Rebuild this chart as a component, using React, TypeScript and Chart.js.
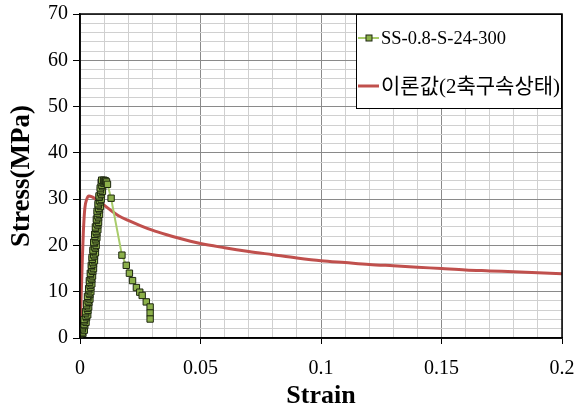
import React, { useEffect, useRef } from "react";
import { Chart, registerables } from "chart.js";

Chart.register(...registerables);

const seriesNames = ["SS-0.8-S-24-300", "이론값(2축구속상태)"];

// Experimental: strain / stress (MPa)
const expStrain = [
  0.0000, 0.0002, 0.0012, 0.0010, 0.0018, 0.0010, 0.0010, 0.0020, 0.0017, 0.0025,
  0.0017, 0.0017, 0.0027, 0.0025, 0.0032, 0.0024, 0.0023, 0.0033, 0.0030, 0.0036,
  0.0028, 0.0027, 0.0037, 0.0034, 0.0041, 0.0033, 0.0031, 0.0041, 0.0038, 0.0045,
  0.0037, 0.0036, 0.0045, 0.0042, 0.0049, 0.0040, 0.0039, 0.0049, 0.0046, 0.0052,
  0.0044, 0.0043, 0.0053, 0.0049, 0.0056, 0.0048, 0.0047, 0.0056, 0.0053, 0.0060,
  0.0051, 0.0050, 0.0060, 0.0057, 0.0064, 0.0055, 0.0054, 0.0064, 0.0060, 0.0067,
  0.0059, 0.0057, 0.0067, 0.0064, 0.0070, 0.0062, 0.0061, 0.0070, 0.0067, 0.0074,
  0.0065, 0.0064, 0.0074, 0.0070, 0.0077, 0.0069, 0.0068, 0.0077, 0.0074, 0.0081,
  0.0072, 0.0071, 0.0081, 0.0078, 0.0085, 0.0076, 0.0075, 0.0085, 0.0081, 0.0088,
  0.0080, 0.0079, 0.0089, 0.0086, 0.0093, 0.0085, 0.0084, 0.0094, 0.0091, 0.0099,
  0.0088, 0.0094, 0.0090, 0.0098, 0.0103, 0.0107, 0.0110,
  0.0114, 0.0129, 0.0174, 0.0192, 0.0205, 0.0218, 0.0234, 0.0248, 0.0258,
  0.0275, 0.0291, 0.0291, 0.0291,
];
const expStress = [
  1.4, 0.6, 1.0, 1.3, 1.7, 2.0, 2.4, 2.7, 3.0, 3.4,
  3.7, 4.0, 4.4, 4.7, 5.0, 5.4, 5.7, 6.0, 6.4, 6.7,
  7.0, 7.4, 7.7, 8.0, 8.4, 8.7, 9.0, 9.4, 9.7, 10.0,
  10.4, 10.7, 11.0, 11.4, 11.7, 12.0, 12.4, 12.7, 13.0, 13.4,
  13.7, 14.0, 14.4, 14.7, 15.0, 15.4, 15.7, 16.0, 16.4, 16.7,
  17.0, 17.4, 17.7, 18.0, 18.4, 18.7, 19.0, 19.4, 19.7, 20.0,
  20.4, 20.7, 21.0, 21.4, 21.7, 22.0, 22.4, 22.7, 23.0, 23.4,
  23.7, 24.0, 24.4, 24.7, 25.0, 25.4, 25.7, 26.0, 26.4, 26.7,
  27.0, 27.4, 27.7, 28.0, 28.4, 28.7, 29.0, 29.4, 29.7, 30.0,
  30.4, 30.7, 31.0, 31.4, 31.7, 32.0, 32.4, 32.7, 33.0, 33.4,
  33.7, 33.9, 34.1, 34.1, 34.0, 33.9, 33.7,
  33.2, 30.2, 17.9, 15.7, 14.0, 12.4, 10.9, 9.9, 9.2,
  7.8, 6.7, 5.4, 4.1,
];

// Theoretical curve
const theoStrain = [
  0, 0.0003, 0.0007, 0.001, 0.0014, 0.002, 0.0028, 0.0037, 0.005, 0.0065,
  0.008, 0.01, 0.012, 0.014, 0.016, 0.02, 0.025, 0.03, 0.036, 0.04,
  0.05, 0.06, 0.07, 0.08, 0.09, 0.1, 0.11, 0.12, 0.13, 0.14,
  0.15, 0.16, 0.17, 0.18, 0.19, 0.2,
];
const theoStress = [
  0, 6, 12.5, 17.5, 23, 28, 30, 30.7, 30.5, 30,
  29.5, 28.7, 27.9, 27.1, 26.4, 25.4, 24.3, 23.3, 22.3, 21.7,
  20.4, 19.5, 18.7, 18.0, 17.3, 16.7, 16.3, 15.9, 15.6, 15.3,
  15.0, 14.7, 14.5, 14.3, 14.1, 13.9,
];

const xTickLabels = ["0", "0.05", "0.1", "0.15", "0.2"];
const yTickLabels = ["0", "10", "20", "30", "40", "50", "60", "70"];

const SERIF = "'Liberation Serif', 'Times New Roman', serif";
const EXP_LINE = "#A9CC6B";
const EXP_FILL = "#8CB04A";
const EXP_EDGE = "#1E2810";
const THEO = "#C0504D";

const isMajorX = (v: number) => Math.round(v * 100) % 5 === 0;
const isMajorY = (v: number) => Math.round(v) % 10 === 0;

const frameAndLegend = {
  id: "frameAndLegend",
  afterDatasetsDraw(chart: any) {
    const { ctx, chartArea } = chart;
    ctx.save();
    ctx.strokeStyle = "#000";
    ctx.lineWidth = 1.5;
    ctx.strokeRect(chartArea.left, chartArea.top, chartArea.right - chartArea.left, chartArea.bottom - chartArea.top);

    // legend box
    const bx = 356, by = 14, bw = chartArea.right - 356, bh = 95;
    ctx.fillStyle = "#fff";
    ctx.fillRect(bx, by, bw, bh);
    ctx.strokeStyle = "#000";
    ctx.lineWidth = 1;
    ctx.strokeRect(bx + 0.5, by + 0.5, bw - 1, bh - 1);

    // entry 1
    const y1 = 38;
    ctx.strokeStyle = EXP_LINE;
    ctx.lineWidth = 2;
    ctx.beginPath();
    ctx.moveTo(358, y1);
    ctx.lineTo(379, y1);
    ctx.stroke();
    ctx.fillStyle = EXP_FILL;
    ctx.fillRect(366, y1 - 3, 6, 6);
    ctx.strokeStyle = EXP_EDGE;
    ctx.lineWidth = 1;
    ctx.strokeRect(366, y1 - 3, 6, 6);
    ctx.fillStyle = "#000";
    ctx.textBaseline = "middle";
    ctx.textAlign = "left";
    ctx.font = `18.5px ${SERIF}`;
    ctx.fillText(seriesNames[0], 381, y1 + 1);

    // entry 2
    const y2 = 86;
    ctx.strokeStyle = THEO;
    ctx.lineWidth = 3;
    ctx.beginPath();
    ctx.moveTo(358, y2);
    ctx.lineTo(379, y2);
    ctx.stroke();
    ctx.fillStyle = "#000";
    ctx.font = `21px 'Liberation Serif', 'Noto Sans CJK KR', serif`;
    ctx.fillText(seriesNames[1], 381, y2 + 1);
    ctx.restore();
  },
};

export default function App() {
  const ref = useRef<HTMLCanvasElement | null>(null);

  useEffect(() => {
    document.body.style.margin = "0";
    const canvas = ref.current;
    if (!canvas) return;
    const chart = new Chart(canvas, {
      type: "scatter",
      data: {
        datasets: [
          {
            label: seriesNames[0],
            data: expStrain.map((x, i) => ({ x, y: expStress[i] })),
            showLine: true,
            borderColor: EXP_LINE,
            borderWidth: 2,
            pointStyle: "rect",
            pointRadius: 4.5,
            pointBackgroundColor: EXP_FILL,
            pointBorderColor: EXP_EDGE,
            pointBorderWidth: 1,
            tension: 0,
          },
          {
            label: seriesNames[1],
            data: theoStrain.map((x, i) => ({ x, y: theoStress[i] })),
            showLine: true,
            borderColor: THEO,
            borderWidth: 3,
            pointRadius: 0,
            cubicInterpolationMode: "monotone",
          },
        ],
      },
      options: {
        animation: false,
        responsive: false,
        events: [],
        layout: { padding: { left: 0, right: 16, top: 14, bottom: 0 } },
        plugins: {
          legend: { display: false },
          tooltip: { enabled: false },
        },
        scales: {
          x: {
            type: "linear",
            min: 0,
            max: 0.2,
            afterFit: (s: any) => {
              s.height = 74;
              s.paddingLeft = 0;
              s.paddingRight = 0;
            },
            ticks: {
              stepSize: 0.01,
              autoSkip: false,
              maxRotation: 0,
              color: "#000",
              padding: 13,
              font: { family: SERIF, size: 20 },
              callback: (v: any) => (isMajorX(Number(v)) ? xTickLabels[Math.round(Number(v) * 20)] : ""),
            },
            grid: {
              color: (c: any) => (isMajorX(c.tick.value) ? "#8A8A8A" : "#D0D0D0"),
              tickColor: (c: any) => (isMajorX(c.tick.value) ? "#000" : "rgba(0,0,0,0)"),
              tickLength: 6,
              lineWidth: 1,
            },
            border: { color: "#000", width: 1.5 },
            title: {
              display: true,
              text: "Strain",
              color: "#000",
              font: { family: SERIF, size: 26, weight: "bold", lineHeight: 1.2 },
              padding: { top: 0, bottom: 0 },
            },
          },
          y: {
            type: "linear",
            min: 0,
            max: 70,
            afterFit: (s: any) => {
              s.width = 80;
              s.paddingTop = 0;
              s.paddingBottom = 0;
            },
            ticks: {
              stepSize: 2,
              autoSkip: false,
              color: "#000",
              padding: 5,
              font: { family: SERIF, size: 20 },
              callback: (v: any) => (isMajorY(Number(v)) ? yTickLabels[Math.round(Number(v) / 10)] : ""),
            },
            grid: {
              color: (c: any) => (isMajorY(c.tick.value) ? "#8A8A8A" : "#D0D0D0"),
              tickColor: (c: any) => (isMajorY(c.tick.value) ? "#000" : "rgba(0,0,0,0)"),
              tickLength: 7,
              lineWidth: 1,
            },
            border: { color: "#000", width: 1.5 },
            title: {
              display: true,
              text: "Stress(MPa)",
              color: "#000",
              font: { family: SERIF, size: 27, weight: "bold", lineHeight: 1.2 },
              padding: { top: 6, bottom: 0 },
            },
          },
        },
      },
      plugins: [frameAndLegend],
    } as any);
    return () => chart.destroy();
  }, []);

  return (
    <div style={{ position: "fixed", left: 0, top: 0, width: 578, height: 412, background: "#fff" }}>
      <canvas ref={ref} width={578} height={412} style={{ width: 578, height: 412, display: "block" }} />
    </div>
  );
}
